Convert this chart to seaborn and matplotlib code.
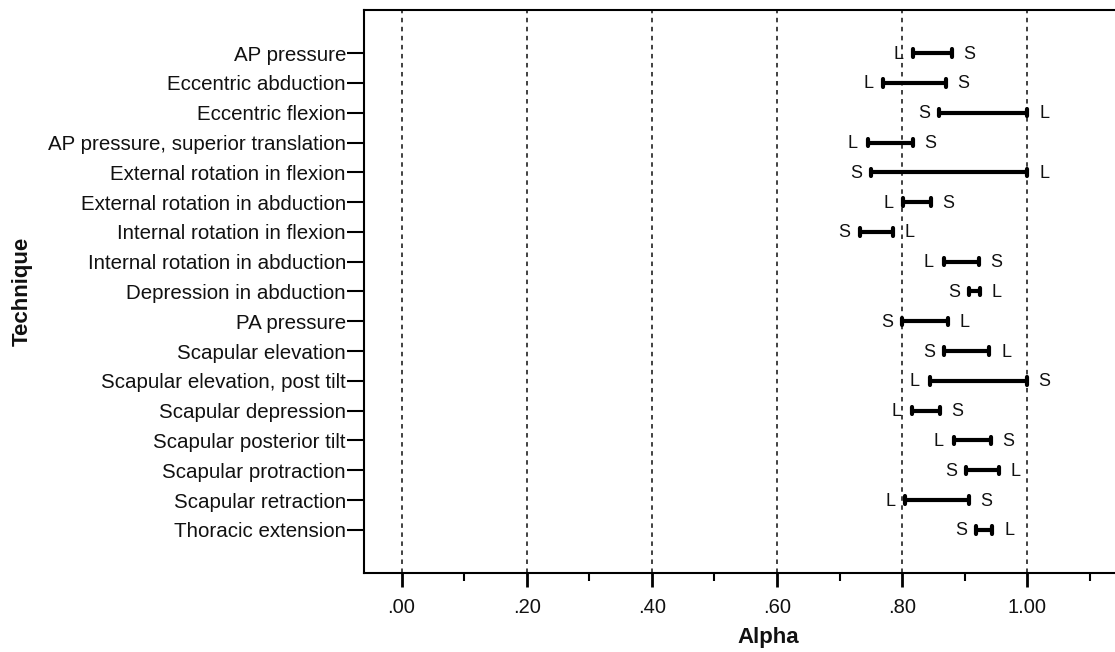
import pandas as pd
import matplotlib
matplotlib.use('Agg')
import matplotlib.pyplot as plt
import seaborn as sns

techniques = ['AP pressure', 'Eccentric abduction', 'Eccentric flexion',
              'AP pressure, superior translation', 'External rotation in flexion',
              'External rotation in abduction', 'Internal rotation in flexion',
              'Internal rotation in abduction', 'Depression in abduction',
              'PA pressure', 'Scapular elevation', 'Scapular elevation, post tilt',
              'Scapular depression', 'Scapular posterior tilt', 'Scapular protraction',
              'Scapular retraction', 'Thoracic extension']

# alpha for the L and S forms
alpha_L = [0.818, 0.770, 1.000, 0.745, 1.000, 0.802, 0.785, 0.866, 0.924,
           0.873, 0.939, 0.844, 0.815, 0.882, 0.954, 0.805, 0.944]
alpha_S = [0.880, 0.870, 0.859, 0.817, 0.750, 0.846, 0.732, 0.923, 0.907,
           0.800, 0.867, 1.000, 0.861, 0.942, 0.902, 0.907, 0.918]

xticks = [0.0, 0.2, 0.4, 0.6, 0.8, 1.0]
xtick_labels = ['.00', '.20', '.40', '.60', '.80', '1.00']

data = pd.DataFrame({
    'Technique': techniques * 2,
    'Alpha': alpha_L + alpha_S,
    'Form': ['L'] * len(techniques) + ['S'] * len(techniques),
})

sns.set_style('white')
plt.rcParams['font.family'] = ['Liberation Sans', 'DejaVu Sans']
plt.rcParams['text.color'] = '#111111'
plt.rcParams['xtick.labelcolor'] = '#111111'
plt.rcParams['ytick.labelcolor'] = '#111111'

fig = plt.figure(figsize=(11.15, 6.52), dpi=100)
ax = fig.add_axes([364 / 1115, 1 - 573 / 652, 1 - 364 / 1115, (573 - 10) / 652])

sns.pointplot(data=data, x='Alpha', y='Technique', order=techniques,
              estimator='mean', errorbar=lambda v: (v.min(), v.max()),
              marker='', linestyle='none', capsize=0.25, color='black',
              err_kws={'linewidth': 3, 'color': 'black'}, ax=ax)

# L / S labels just outside each end of the range
for i, t in enumerate(techniques):
    lo = min(alpha_L[i], alpha_S[i])
    for val, lab in [(alpha_L[i], 'L'), (alpha_S[i], 'S')]:
        off = -15 if val == lo else 17
        ax.annotate(lab, (val, i), xytext=(off, -1), textcoords='offset pixels',
                    ha='center', va='center', fontsize=13, color='#111111')

ax.set_xlim(-0.06, 1.14)
ax.set_ylim(len(techniques) - 1 + 1.45, -1.45)
ax.set_xticks(xticks)
ax.set_xticklabels(xtick_labels)
ax.set_xticks([0.1, 0.3, 0.5, 0.7, 0.9, 1.1], minor=True)
ax.grid(axis='x', which='major', linestyle=(0, (2.5, 2.5)), color='#333333', linewidth=1.3)
ax.set_axisbelow(True)

ax.tick_params(axis='x', which='major', direction='out', length=10, width=2,
               color='black', labelsize=14.5, pad=8, bottom=True)
ax.tick_params(axis='x', which='minor', direction='out', length=6, width=1.5,
               color='black', bottom=True)
ax.tick_params(axis='y', direction='out', length=12, width=1.5, color='black',
               labelsize=14.8, pad=1, left=True)

for side in ['left', 'top', 'bottom']:
    ax.spines[side].set_color('black')
    ax.spines[side].set_linewidth(1.5)
ax.spines['right'].set_visible(False)

ax.set_xlabel('')
ax.set_ylabel('')
fig.text(768 / 1115, 1 - 637 / 652, 'Alpha', ha='center', va='center',
         fontsize=16, fontweight='bold')
fig.text(22 / 1115, 1 - 291 / 652, 'Technique', ha='center', va='center',
         rotation=90, fontsize=16, fontweight='bold')

plt.savefig('out.png', dpi=100)
